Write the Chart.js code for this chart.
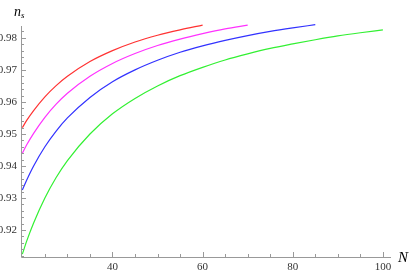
<!DOCTYPE html>
<html>
<head>
<meta charset="utf-8">
<script src="https://cdn.jsdelivr.net/npm/chart.js@4/dist/chart.umd.min.js"></script>
<style>
  html, body { margin: 0; padding: 0; background: #fff; }
  #wrap { width: 415px; height: 272px; }
</style>
</head>
<body>
<div id="wrap"><canvas id="nsChart" width="415" height="272"></canvas></div>
<script>
// e-folds N (denser near the steep start)
const efolds = [20, 21, 22.5, 25, 27.5, 30, 35, 40, 45, 50, 55, 60, 65, 70, 75, 80, 85, 90, 95, 100];
// n_s (each stops at its own last N)
const nsRed = [0.952, 0.9543, 0.9573, 0.9616, 0.9651, 0.968, 0.9726, 0.976, 0.9787, 0.9808, 0.9825, 0.984];
const nsMagenta = [0.944, 0.9467, 0.9502, 0.9552, 0.9593, 0.9627, 0.968, 0.972, 0.9751, 0.9776, 0.9796, 0.9813, 0.9828, 0.984];
const nsBlue = [0.9325, 0.9357, 0.940, 0.946, 0.9509, 0.955, 0.9614, 0.9663, 0.970, 0.973, 0.9755, 0.9775, 0.9792, 0.9807, 0.982, 0.9831, 0.9841];
const nsGreen = [0.9125, 0.9167, 0.9222, 0.930, 0.9364, 0.9417, 0.950, 0.9563, 0.9611, 0.965, 0.9682, 0.9708, 0.9731, 0.975, 0.9767, 0.9781, 0.9794, 0.9806, 0.9816, 0.9825];
// tick labels
const xTicks = [40, 60, 80, 100];
const yTicks = [0.92, 0.93, 0.94, 0.95, 0.96, 0.97, 0.98];

function pts(vals) {
    return vals.map((v, i) => ({ x: efolds[i], y: v }));
}

function line(vals, color) {
    return {
        data: pts(vals),
        borderColor: color,
        borderWidth: 1.2,
        pointRadius: 0,
        cubicInterpolationMode: 'monotone',
        fill: false,
        clip: false
    };
}

// mathematica style axes: ticks pointing inward, labels drawn next to them
const axesPlugin = {
    id: 'mmaAxes',
    afterDraw(chart) {
        const c = chart.ctx;
        const xs = chart.scales.x, ys = chart.scales.y;
        const x0 = xs.left, y0 = ys.bottom;
        c.save();
        c.strokeStyle = '#999';
        c.lineWidth = 1;
        c.beginPath();
        c.moveTo(x0 + 0.5, ys.top);
        c.lineTo(x0 + 0.5, y0 + 0.5);
        c.lineTo(xs.right, y0 + 0.5);
        c.stroke();

        // x ticks
        for (let n = 25; n <= 100; n += 5) {
            const px = Math.round(xs.getPixelForValue(n)) + 0.5;
            const len = n % 20 === 0 ? 5 : 3;
            c.beginPath();
            c.moveTo(px, y0);
            c.lineTo(px, y0 - len);
            c.stroke();
        }
        // y ticks
        for (let k = 912; k <= 983; k += 2) {
            const v = k / 1000;
            const py = Math.round(ys.getPixelForValue(v)) + 0.5;
            const len = k % 10 === 0 ? 5 : 3;
            c.beginPath();
            c.moveTo(x0, py);
            c.lineTo(x0 + len, py);
            c.stroke();
        }

        c.fillStyle = '#333';
        c.font = '11px "Liberation Serif"';
        c.textAlign = 'center';
        c.textBaseline = 'middle';
        xTicks.forEach(t => c.fillText(String(t), xs.getPixelForValue(t), y0 + 10));
        c.textAlign = 'right';
        yTicks.forEach(t => c.fillText(t.toFixed(2), x0 - 4, ys.getPixelForValue(t)));

        // axis labels
        c.fillStyle = '#000';
        c.textAlign = 'left';
        c.font = 'italic 14px "Liberation Serif"';
        c.fillText('n', 14, 12);
        c.font = 'italic 9px "Liberation Serif"';
        c.fillText('s', 21, 16);
        c.font = 'italic 15px "Liberation Serif"';
        c.fillText('N', 398, 258);
        c.restore();
    }
};

const ctx = document.getElementById('nsChart').getContext('2d');
const nsChart = new Chart(ctx, {
    type: 'line',
    data: {
        datasets: [
            line(nsRed, 'rgb(255, 50, 50)'),
            line(nsMagenta, 'rgb(255, 50, 255)'),
            line(nsBlue, 'rgb(50, 50, 255)'),
            line(nsGreen, 'rgb(50, 240, 50)')
        ]
    },
    options: {
        responsive: false,
        animation: false,
        layout: { padding: { left: 21, right: 24, top: 26, bottom: 15 } },
        plugins: { legend: { display: false }, tooltip: { enabled: false } },
        scales: {
            x: { type: 'linear', min: 19.7, max: 101.8, display: false },
            y: { type: 'linear', min: 0.9116, max: 0.9837, display: false }
        }
    },
    plugins: [axesPlugin]
});
</script>
</body>
</html>
